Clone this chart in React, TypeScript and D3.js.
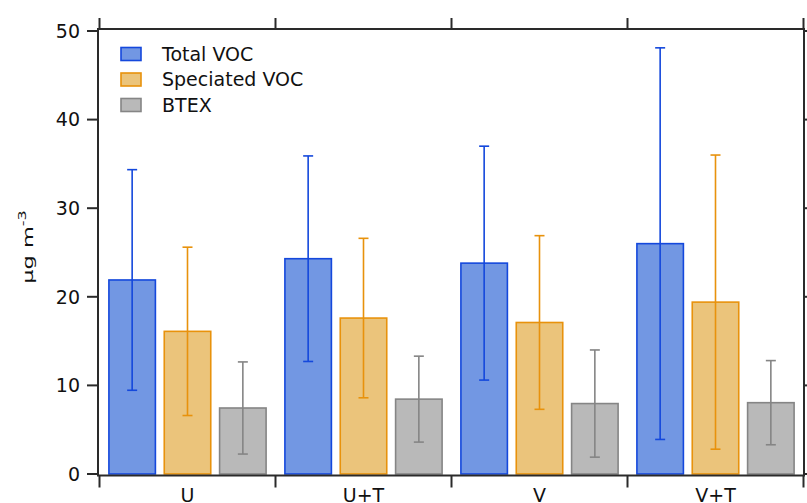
import React from "react";
import * as d3 from "d3";

const categories = ["U", "U+T", "V", "V+T"];
const seriesNames = ["Total VOC", "Speciated VOC", "BTEX"];
const totalVOC = [21.9, 24.3, 23.8, 26.0];
const totalVOCErr = [12.45, 11.6, 13.2, 22.1];
const speciatedVOC = [16.1, 17.6, 17.1, 19.4];
const speciatedVOCErr = [9.5, 9.0, 9.8, 16.6];
const btex = [7.45, 8.45, 7.95, 8.05];
const btexErr = [5.2, 4.85, 6.05, 4.75];
const yTicks = [0, 10, 20, 30, 40, 50];

const fills = ["#7297e3", "#ebc47b", "#b9b9b9"];
const strokes = ["#1448dc", "#e8920c", "#858585"];

export default function App() {
  const W = 807, H = 503;
  const left = 98, right = 804, top = 29, bottom = 475.5;
  const y = d3.scaleLinear().domain([0, 50]).range([474, 31]);
  const x0 = d3.scaleBand<string>().domain(categories).range([99.5, 803.5]).paddingInner(0).paddingOuter(0);
  const x1 = d3.scaleBand<string>().domain(seriesNames).range([0, x0.bandwidth()]).paddingInner(0.16).paddingOuter(0.17);
  const vals = [totalVOC, speciatedVOC, btex];
  const errs = [totalVOCErr, speciatedVOCErr, btexErr];
  const font = "'DejaVu Sans', sans-serif";
  const axisColor = "#2a2a2a";
  const boundaries = categories.map((c) => x0(c)!).concat([x0.range()[1]]);

  return (
    <svg width={W} height={H} style={{ position: "absolute", left: 0, top: 0 }} fontFamily={font}>
      <rect x={0} y={0} width={W} height={H} fill="#fff" />
      {categories.map((c, ci) =>
        seriesNames.map((s, si) => {
          const v = vals[si][ci];
          const e = errs[si][ci];
          const bx = x0(c)! + x1(s)!;
          const bw = x1.bandwidth();
          const cx = bx + bw / 2;
          return (
            <g key={c + s}>
              <rect x={bx} y={y(v)} width={bw} height={y(0) - y(v)} fill={fills[si]} stroke={strokes[si]} strokeWidth={1.6} />
              <line x1={cx} x2={cx} y1={y(v + e)} y2={y(v - e)} stroke={strokes[si]} strokeWidth={1.6} />
              <line x1={cx - 5} x2={cx + 5} y1={y(v + e)} y2={y(v + e)} stroke={strokes[si]} strokeWidth={1.6} />
              <line x1={cx - 5} x2={cx + 5} y1={y(v - e)} y2={y(v - e)} stroke={strokes[si]} strokeWidth={1.6} />
            </g>
          );
        })
      )}
      {/* frame */}
      <rect x={left} y={top} width={right - left} height={bottom - top} fill="none" stroke={axisColor} strokeWidth={2} />
      {/* y ticks */}
      {yTicks.map((t) => (
        <g key={t}>
          <line x1={left - 11} x2={left} y1={y(t)} y2={y(t)} stroke={axisColor} strokeWidth={2} />
          <line x1={right} x2={right + 11} y1={y(t)} y2={y(t)} stroke={axisColor} strokeWidth={2} />
          <text x={80} y={y(t)} dy="0.36em" textAnchor="end" fontSize={19} fill="#111">{t}</text>
        </g>
      ))}
      {/* x ticks */}
      {boundaries.map((b, i) => (
        <g key={i}>
          <line x1={b} x2={b} y1={top - 11} y2={top} stroke={axisColor} strokeWidth={2} />
          <line x1={b} x2={b} y1={bottom} y2={bottom + 12} stroke={axisColor} strokeWidth={2} />
        </g>
      ))}
      {categories.map((c) => (
        <text key={c} x={x0(c)! + x0.bandwidth() / 2} y={502} textAnchor="middle" fontSize={19} fill="#111">{c}</text>
      ))}
      {/* y label */}
      <text transform="translate(33,247) rotate(-90) scale(1.6,1)" textAnchor="middle" fontSize={14} fill="#111">
        µg m<tspan fontSize={10} dy={-7}>-3</tspan>
      </text>
      {/* legend */}
      {seriesNames.map((s, i) => (
        <g key={s}>
          <rect x={121} y={47.5 + i * 25.5} width={20} height={13} fill={fills[i]} stroke={strokes[i]} strokeWidth={1.6} />
          <text x={162} y={60.5 + i * 25.5} fontSize={19} fill="#111">{s}</text>
        </g>
      ))}
    </svg>
  );
}
